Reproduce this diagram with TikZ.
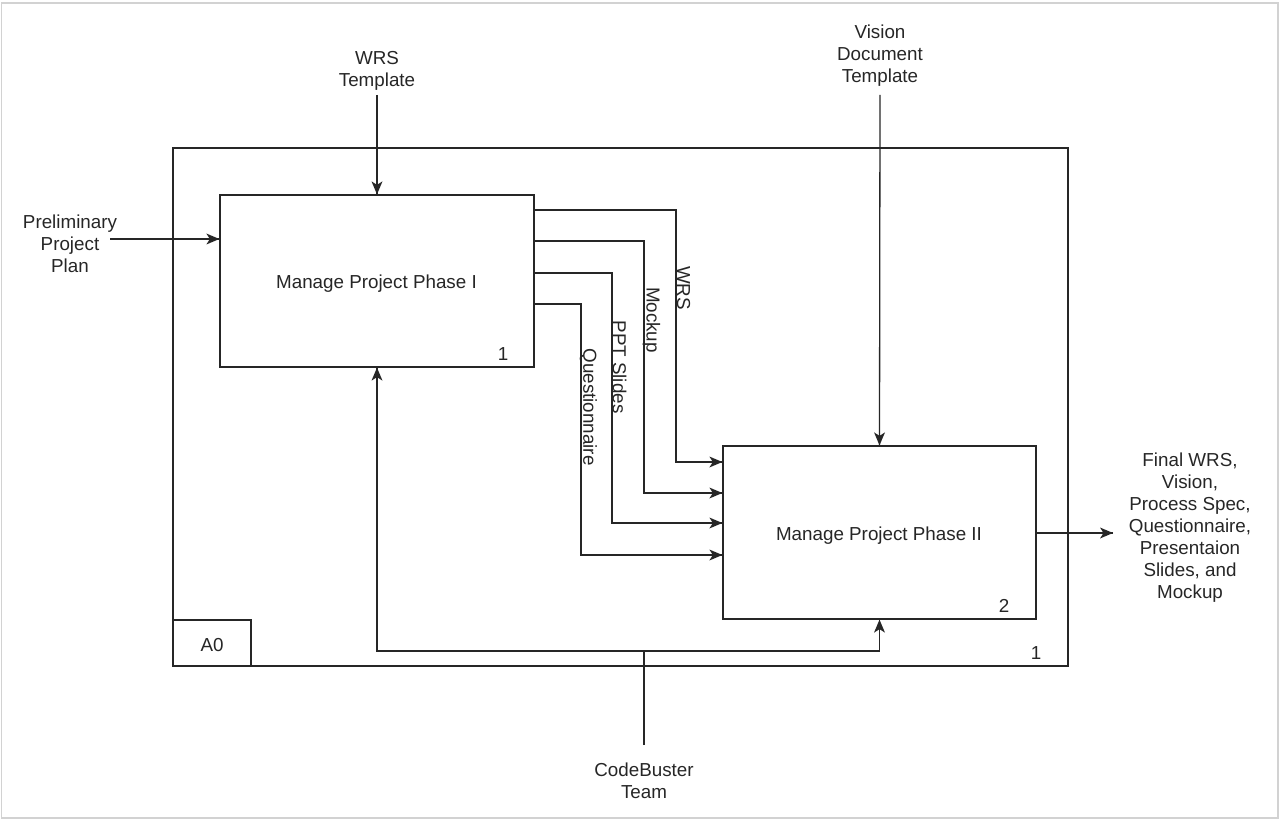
\documentclass[tikz,border=0pt]{standalone}
\usepackage{fontspec}
\setmainfont{Liberation Sans}
\usetikzlibrary{arrows.meta,calc,decorations.markings}
\begin{document}
\begin{tikzpicture}[x=1pt,y=-1pt,
  every node/.style={font=\fontsize{18.8}{22}\selectfont, text=black!85},
  proc/.style={draw=black!85, line width=1.3pt, fill=white, inner sep=0pt},
  txt/.style={align=center, inner sep=0pt},
  ln/.style={draw=black!85, line width=1.3pt},
  arr/.style={ln, postaction={decorate, decoration={markings,
      mark=at position 1 with {\fill[black!85] (0pt,0pt) -- (-13pt,5.5pt) -- (-9.5pt,0pt) -- (-13pt,-5.5pt) -- cycle;}}}},
  vlab/.style={rotate=-90, inner sep=0pt}]
\useasboundingbox (0,0) rectangle (1280,821);
\draw[gray!35, line width=1.5pt] (1.5,3) rectangle (1278,818);
% outer box
\node[proc, minimum width=895pt, minimum height=518pt] (outer) at (620.5,407) {};
\node[proc, minimum width=78pt, minimum height=46pt] (a0) at (212,643) {};
\node[txt] (a0t) at (212,645) {A0};
\node[txt] (n1o) at (1036,653) {1};
% activity boxes
\node[proc, minimum width=314pt, minimum height=172pt] (box1) at (377,281) {};
\node[txt] (box1t) at (376.5,284) {Manage Project Phase I};
\node[txt] (n1) at (503,354) {1};
\node[proc, minimum width=313pt, minimum height=173pt] (box2) at (879.5,532.5) {};
\node[txt] (box2t) at (879,535.5) {Manage Project Phase II};
\node[txt] (n2) at (1004,606) {2};
% external texts
\node[txt] (wrst) at (377,70.5) {WRS\\Template};
\node[txt] (vdt) at (880,55.5) {Vision\\Document\\Template};
\node[txt] (ppp) at (70,243.5) {Preliminary\\Project\\Plan};
\node[txt] (fin) at (1190,527.5) {Final WRS,\\Vision,\\Process Spec,\\Questionnaire,\\Presentaion\\Slides, and\\Mockup};
\node[txt] (team) at (644,780.5) {CodeBuster\\Team};
% controls
\coordinate (c1) at (377,95);
\coordinate (c2) at (880,95);
\draw[arr] (c1) -- (box1.north);
\draw[arr] (c2) -- (box2.north);
% input
\coordinate (pin) at (110,239);
\draw[arr] (pin) -- (box1.west |- pin);
% output
\coordinate (pout) at (1113,533);
\draw[arr] (box2.east |- pout) -- (pout);
% mechanism
\coordinate (tm) at (644,745);
\coordinate (cb) at (644,651);
\draw[ln] (tm) -- (cb);
\draw[arr] (cb) -| (box1.south);
\draw[arr] (cb) -| (box2.south);
% flows between activities
\coordinate (w1) at (676,210);  \coordinate (w2) at (0,462);
\coordinate (m1) at (644,241);  \coordinate (m2) at (0,493);
\coordinate (p1) at (612,273);  \coordinate (p2) at (0,523);
\coordinate (q1) at (581,304);  \coordinate (q2) at (0,555);
\draw[arr] (box1.east |- w1) -- (w1) -- (w1 |- w2) -- (box2.west |- w2);
\draw[arr] (box1.east |- m1) -- (m1) -- (m1 |- m2) -- (box2.west |- m2);
\draw[arr] (box1.east |- p1) -- (p1) -- (p1 |- p2) -- (box2.west |- p2);
\draw[arr] (box1.east |- q1) -- (q1) -- (q1 |- q2) -- (box2.west |- q2);
\node[vlab] (lw) at (683.5,288) {WRS};
\node[vlab] (lm) at (651.5,320) {Mockup};
\node[vlab] (lp) at (619.5,367) {PPT Slides};
\node[vlab] (lq) at (588.5,407) {Questionnaire};
\end{tikzpicture}
\end{document}
